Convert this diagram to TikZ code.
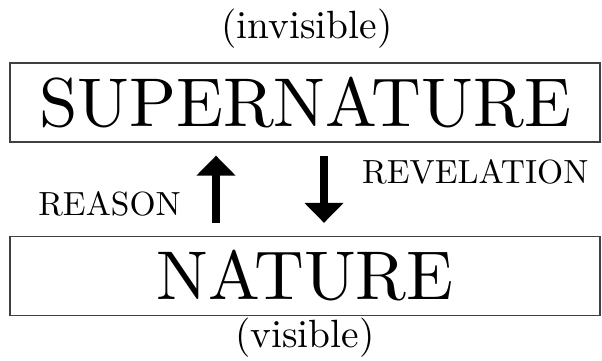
\documentclass[tikz,border=0pt]{standalone}
\usepackage{fontspec}
\setmainfont{lmroman10-regular}[Extension=.otf]
\usetikzlibrary{arrows.meta}
\begin{document}
\begin{tikzpicture}[x=1pt,y=-1pt,
  bigbox/.style={draw=black!75, line width=1.3pt, minimum width=590pt, minimum height=79pt, inner sep=0pt, text height=47.1pt, text depth=0pt, font=\fontsize{69}{76}\selectfont},
  smalltext/.style={inner sep=0pt, font=\fontsize{39.4}{46}\selectfont},
  labeltext/.style={inner sep=0pt, font=\fontsize{33.5}{40}\selectfont},
  bigarrow/.style={line width=8pt, -{Triangle[width=38pt,length=20pt]}, shorten <=13pt, shorten >=13pt}]
\useasboundingbox (0,0) rectangle (602,360);
\node[bigbox] (sup) at (305,102.5) {SUPERNATURE};
\node[bigbox] (nat) at (305,276) {NATURE};
\node[smalltext, anchor=base] (inv) at (307,38) {(invisible)};
\node[smalltext, anchor=base] (vis) at (305,347) {(visible)};
\node[labeltext, anchor=base] (reason) at (109.5,215) {REASON};
\node[labeltext, anchor=base west] (rev) at (362,183) {REVELATION};
\coordinate (upx) at (216,0);
\coordinate (downx) at (324,0);
\draw[bigarrow] (nat.north -| upx) -- (sup.south -| upx);
\draw[bigarrow] (sup.south -| downx) -- (nat.north -| downx);
\end{tikzpicture}
\end{document}
